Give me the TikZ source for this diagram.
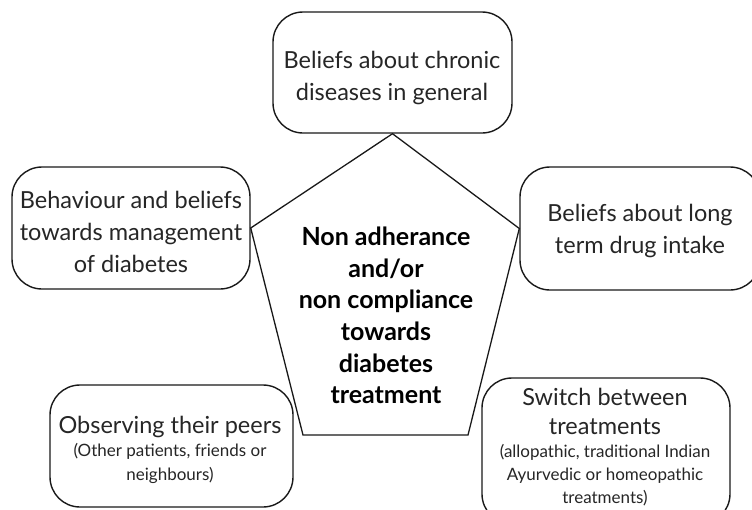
\documentclass[tikz,border=0pt]{standalone}
\usepackage{fontspec}
\setmainfont{Lato}
\begin{document}
\begin{tikzpicture}[x=1pt,y=-1pt,
  rbox/.style={draw=black!90, line width=1.4pt, rounded corners=30pt, inner sep=0pt},
  bigtxt/.style={align=center, text=black!85, inner sep=0pt, font=\fontsize{23.5}{32}\selectfont},
  bigline/.style={anchor=base, text=black!85, inner sep=0pt, font=\fontsize{23.5}{32}\selectfont},
  smline/.style={anchor=base, text=black!85, inner sep=0pt, font=\fontsize{17}{24}\selectfont},
  edge/.style={draw=black!90, line width=1.3pt, line join=miter},
  ctxt/.style={align=center, inner sep=0pt, font=\fontsize{25}{31.6}\selectfont\bfseries, text=black}
]
\clip (0,0) rectangle (752,509);
\fill[white] (0,0) rectangle (752,509);

% boxes
\node[rbox, minimum width=239pt, minimum height=121pt] (top) at (392.5,72.5) {};
\node[rbox, minimum width=238pt, minimum height=122pt] (lft) at (131,228) {};
\node[rbox, minimum width=240pt, minimum height=123pt] (rgt) at (640,228.5) {};
\node[rbox, minimum width=243pt, minimum height=122pt] (bl) at (171.5,446) {};
\node[rbox, minimum width=248pt, minimum height=146pt] (br) at (606,451) {};

% texts
\node[bigtxt] (topT) at (392,78) {Beliefs about chronic\\diseases in general};
\node[bigtxt] (lftT) at (131,232) {Behaviour and beliefs\\towards management\\of diabetes};
\node[bigtxt] (rgtT) at (640,231) {Beliefs about long\\term drug intake};

\node[bigline] (blT1) at (170,433) {Observing their peers};
\node[smline] (blT2) at (170,456) {(Other patients, friends or};
\node[smline] (blT3) at (170,480) {neighbours)};

\node[bigline] (brT1) at (605,405) {Switch between};
\node[bigline] (brT2) at (605,434) {treatments};
\node[smline] (brT3) at (605,457) {(allopathic, traditional Indian};
\node[smline] (brT4) at (605,480.5) {Ayurvedic or homeopathic};
\node[smline] (brT5) at (605,503.5) {treatments)};

% central pentagon
\coordinate (pbl) at (303,435);
\coordinate (pbr) at (468,435);
\draw[edge] (top.south) -- (rgt.west) -- (pbr) -- (pbl) -- (lft.east) -- cycle;

\node[ctxt] (core) at (386,315.5)
  {Non adherance\\and/or\\non compliance\\towards\\diabetes\\treatment};
\end{tikzpicture}
\end{document}
